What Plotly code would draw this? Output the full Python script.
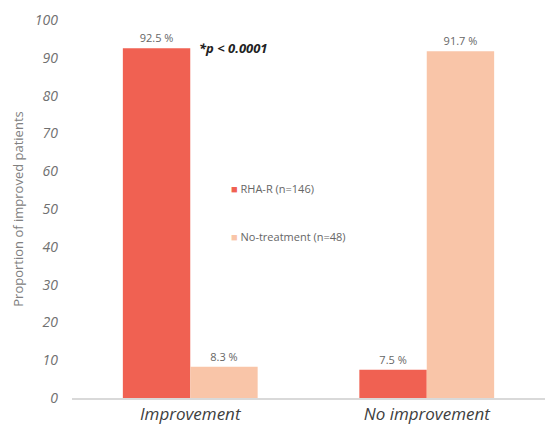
import plotly.graph_objects as go

categories = ["Improvement", "No improvement"]
rha_r = [92.5, 7.5]
no_treatment = [8.3, 91.7]
series_names = ["RHA-R (n=146)", "No-treatment (n=48)"]
colors = ["#F06152", "#F9C5A8"]
y_ticks = [0, 10, 20, 30, 40, 50, 60, 70, 80, 90, 100]

fig = go.Figure()
for name, vals, col in zip(series_names, [rha_r, no_treatment], colors):
    fig.add_trace(go.Bar(
        x=categories, y=vals, name=name,
        marker=dict(color=col, line=dict(width=0)),
        text=[f"{v} %" for v in vals], textposition="outside",
        textfont=dict(color="#666666", size=11, family="Open Sans"),
        cliponaxis=False, showlegend=False,
    ))

fig.add_annotation(
    x=0.03, y=rha_r[0], xref="x", yref="y",
    text="<b><i>*p < 0.0001</i></b>", showarrow=False,
    xanchor="left", yanchor="middle", yshift=0,
    font=dict(size=13, color="#222222", family="Open Sans"),
)

# legend drawn as text entries
for i, (name, col) in enumerate(zip(series_names, colors)):
    fig.add_annotation(
        x=0.332, y=0.555 - i * 0.127, xref="paper", yref="paper",
        text=f"<span style='color:{col}'>■</span> {name}", showarrow=False,
        xanchor="left", yanchor="middle",
        font=dict(size=11, color="#666666", family="Open Sans"),
    )

fig.update_layout(
    width=545, height=432,
    margin=dict(l=72, r=0, t=20, b=34),
    paper_bgcolor="white", plot_bgcolor="white",
    barmode="group", bargap=0.43, bargroupgap=0,
    font=dict(family="Open Sans", color="#666666"),
    showlegend=False,
    xaxis=dict(
        showgrid=False, showline=True, linecolor="#D9D9D9", linewidth=1.5,
        ticks="", tickfont=dict(size=17, color="#404040", family="Open Sans"),
        tickmode="array", tickvals=categories,
        ticktext=[f"<i>{c}</i>" for c in categories],
    ),
    yaxis=dict(
        range=[0, 100], tickmode="array", tickvals=y_ticks,
        ticktext=[f"<i>{t}</i>" for t in y_ticks],
        showgrid=False, zeroline=False, showline=False, ticks="",
        ticklabelstandoff=13,
        tickfont=dict(size=14, color="#707070", family="Open Sans"),
        title=dict(text="Proportion of improved patients",
                   font=dict(size=13, color="#808080"), standoff=8),
    ),
)

fig.write_html("out.html")
